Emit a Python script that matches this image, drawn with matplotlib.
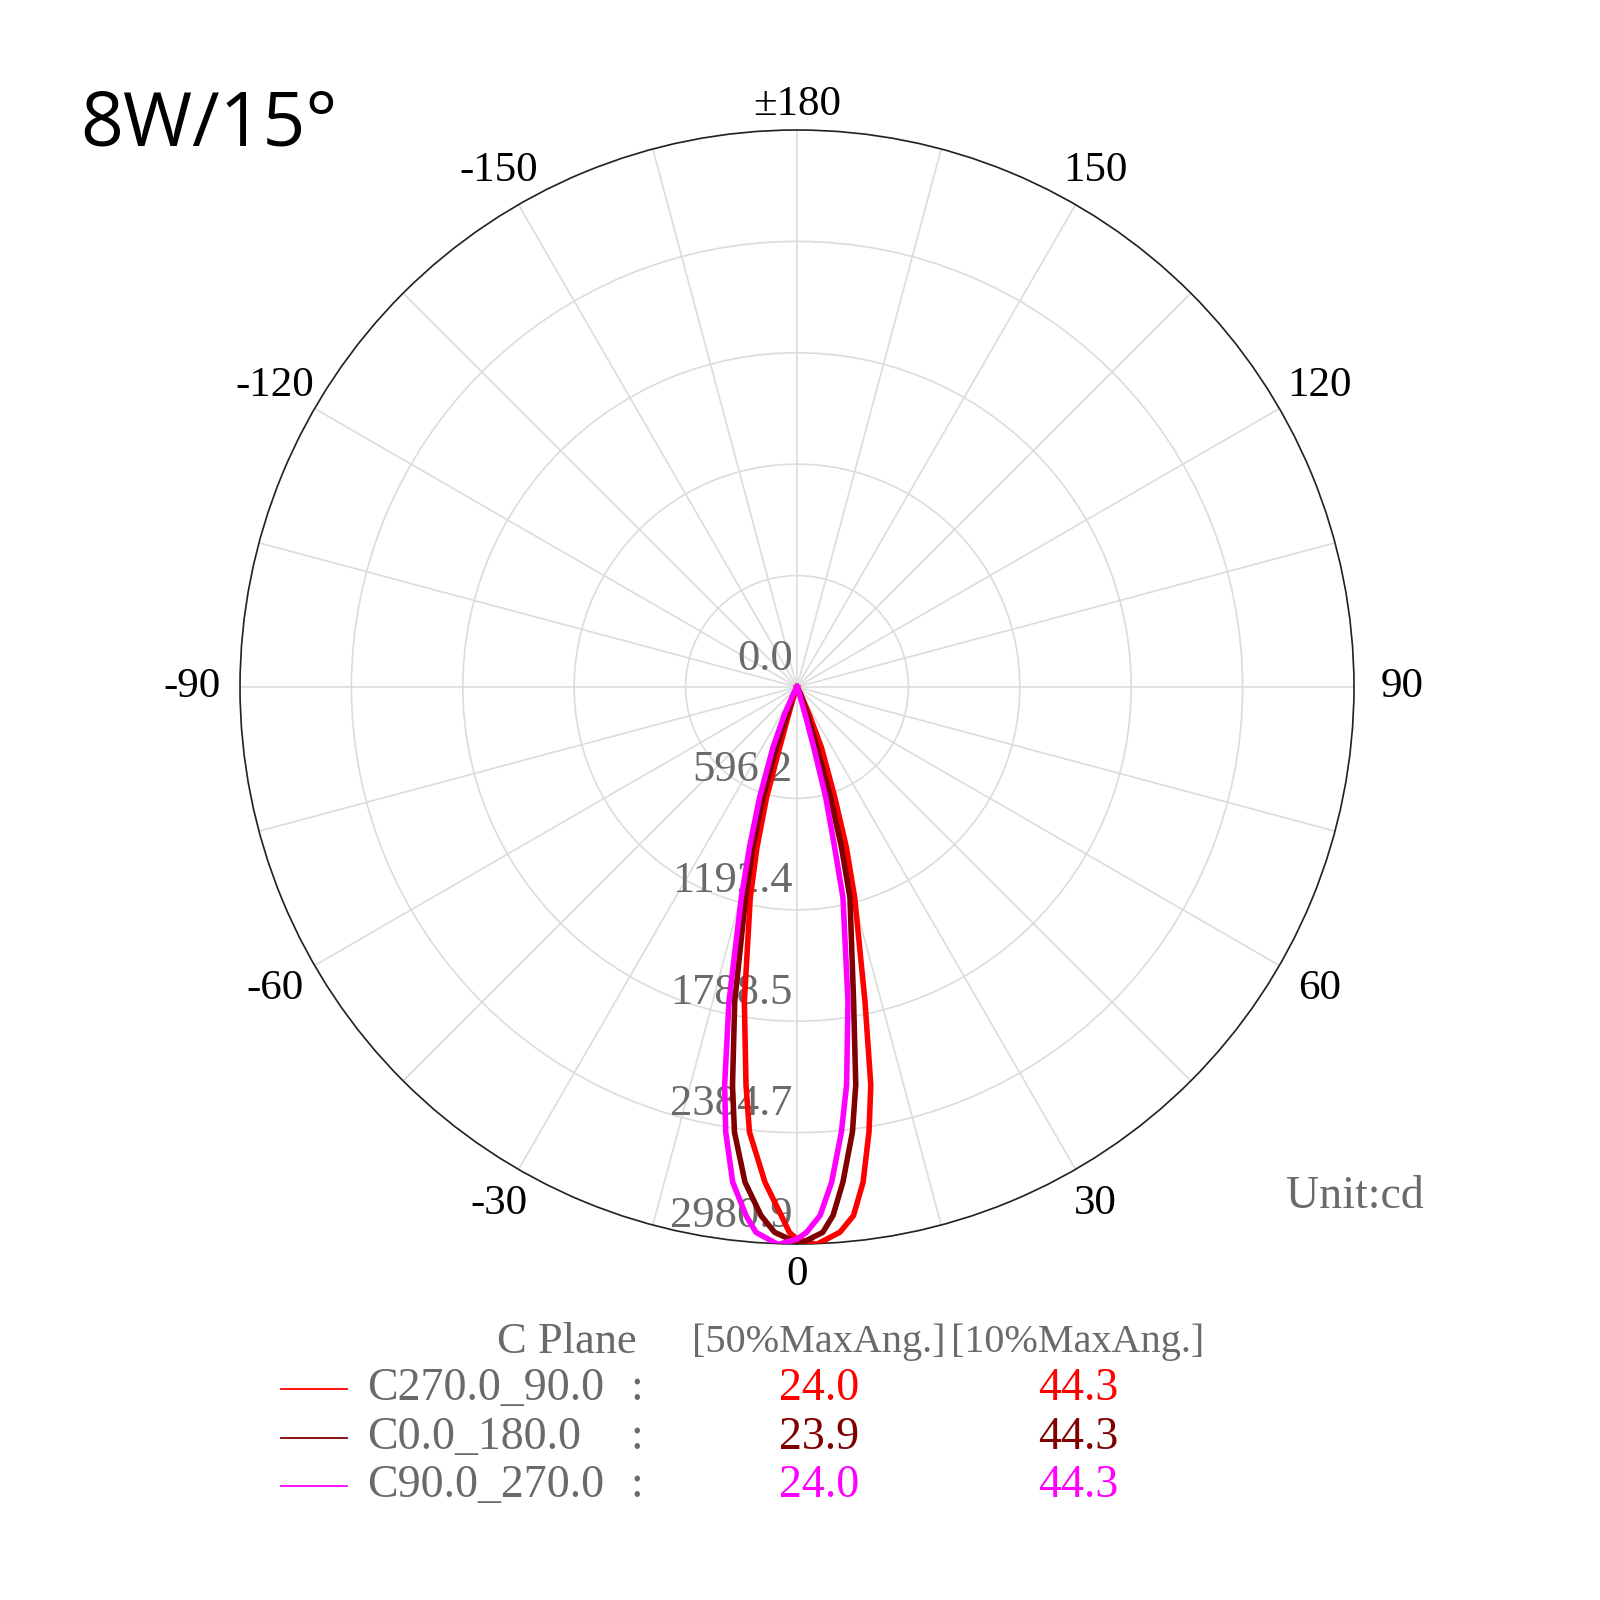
import numpy as np
import matplotlib.pyplot as plt
from matplotlib.lines import Line2D

# Data (angle in degrees, intensity in cd)

r_max = 2980.9
ring_values = [0.0, 596.2, 1192.4, 1788.5, 2384.7, 2980.9]
ring_labels = ["0.0", "596.2", "1192.4", "1788.5", "2384.7", "2980.9"]

theta_label_angles = [0, 30, 60, 90, 120, 150, 180, -150, -120, -90, -60, -30]
theta_label_texts = ["0", "30", "60", "90", "120", "150", "\u00b1180",
                     "-150", "-120", "-90", "-60", "-30"]

ang_c270 = [-90, -30, -20, -17, -16, -15.4, -14, -12.5, -9.5, -7.3, -6.1, -3.7,
            -1.7, -0.8, 0, 2.0, 4.5, 6.1, 7.6, 9.2, 10.5, 12.2, 15.3, 17.1,
            18.9, 22, 24, 28, 34, 90]
cd_c270 = [0, 0, 40, 150, 336, 614, 886, 1156, 1707, 2148, 2395, 2656,
           2830, 2919, 2955, 2985, 2927, 2845, 2674, 2411, 2167, 1722, 1171, 900,
           625, 349, 158, 40, 0, 0]

ang_c0 = [-90, -30, -24, -19.7, -18.9, -17.1, -15.4, -13.7, -11.2, -9.2, -8.0,
          -6.0, -3.9, -2.35, 0.3, 2.7, 3.9, 5.3, 7.1, 8.4, 10.2, 14.1, 15.5,
          16.9, 18.4, 20.5, 25, 30, 90]
cd_c0 = [0, 0, 50, 153, 341, 619, 891, 1162, 1716, 2159, 2405,
         2664, 2835, 2921, 2980, 2922, 2835, 2661, 2400, 2153, 1711, 1163, 892,
         618, 340, 155, 50, 0, 0]

ang_c90 = [-90, -34, -28, -24.6, -21.7, -18.7, -16.5, -14.8, -12.2, -10.3, -9.1,
           -7.4, -5.5, -4.3, -1.95, 0, 1.0, 2.5, 4.0, 5.7, 7.1, 9.2, 12.3, 13.2,
           14.6, 15.5, 16.5, 19, 24, 90]
cd_c90 = [0, 0, 40, 158, 348, 625, 897, 1167, 1723, 2166, 2412,
          2672, 2842, 2927, 2985, 2955, 2919, 2831, 2657, 2393, 2147, 1706, 1155, 884,
          611, 335, 150, 40, 0, 0]

plane_names = ["C270.0_90.0", "C0.0_180.0", "C90.0_270.0"]
plane_colors = ["#ff0000", "#800000", "#ff00ff"]
half50 = ["24.0", "23.9", "24.0"]
half10 = ["44.3", "44.3", "44.3"]

serif = "Liberation Serif"
grey = "#6a6a6a"

fig = plt.figure(figsize=(16, 16), dpi=100)
W = 1600.0

# polar axes: centre (797, 687) px, radius 557 px
ax = fig.add_axes([(797 - 557) / W, (W - 687 - 557) / W, 1114 / W, 1114 / W],
                  projection="polar")
ax.set_theta_zero_location("S")
ax.set_theta_direction(1)
ax.set_ylim(0, r_max)
ax.set_thetagrids(np.arange(0, 360, 15), labels=[])
ax.set_rgrids(ring_values[1:], labels=[])
ax.grid(color="#dcdcdc", linewidth=1.2)
ax.spines["polar"].set_color("#222222")
ax.spines["polar"].set_linewidth(1.2)

for ang, cd, col in zip([ang_c270, ang_c0, ang_c90], [cd_c270, cd_c0, cd_c90], plane_colors):
    ax.plot(np.radians(ang), cd, color=col, linewidth=4.0, zorder=5,
            solid_joinstyle="round")

# theta labels
for a, t in zip(theta_label_angles, theta_label_texts):
    rr = r_max * (1.055 + 0.032 * abs(np.sin(np.radians(a))))
    if a == 180:
        rr = r_max * 1.045
    ax.text(np.radians(a), rr, t, ha="center", va="center", fontsize=31,
            family=serif, color="black", clip_on=False)

# ring labels
for v, t in zip(ring_values, ring_labels):
    ax.annotate(t, xy=(0, v), xytext=(-3, 6), textcoords="offset points",
                ha="right", va="bottom", fontsize=32, family=serif,
                color=grey, zorder=2)

# title and unit
fig.text(80 / W, 1 - 88 / W, "8W/15\u00b0", fontsize=54, family="Open Sans",
         ha="left", va="top")
fig.text(1355 / W, 1 - 1197 / W, "Unit:cd", fontsize=33, family=serif,
         color=grey, ha="center", va="center")

# legend table
fig.text(497 / W, 1 - 1342 / W, "C Plane", fontsize=32, family=serif,
         color=grey, ha="left", va="center")
fig.text(819 / W, 1 - 1342 / W, "[50%MaxAng.]", fontsize=29, family=serif,
         color=grey, ha="center", va="center")
fig.text(1078 / W, 1 - 1342 / W, "[10%MaxAng.]", fontsize=29, family=serif,
         color=grey, ha="center", va="center")

row_y = [1389, 1438, 1486]
for y, name, col, a50, a10 in zip(row_y, plane_names, plane_colors, half50, half10):
    fy = 1 - y / W
    fig.add_artist(Line2D([281 / W, 347 / W], [fy, fy], color=col, linewidth=1.3))
    fig.text(367 / W, fy, name, fontsize=33, family=serif, color=grey,
             ha="left", va="center")
    fig.text(637 / W, fy, ":", fontsize=33, family=serif, color=grey,
             ha="center", va="center")
    fig.text(819 / W, fy, a50, fontsize=33, family=serif, color=col,
             ha="center", va="center")
    fig.text(1078 / W, fy, a10, fontsize=33, family=serif, color=col,
             ha="center", va="center")

fig.savefig("out.png", dpi=100, facecolor="white")
